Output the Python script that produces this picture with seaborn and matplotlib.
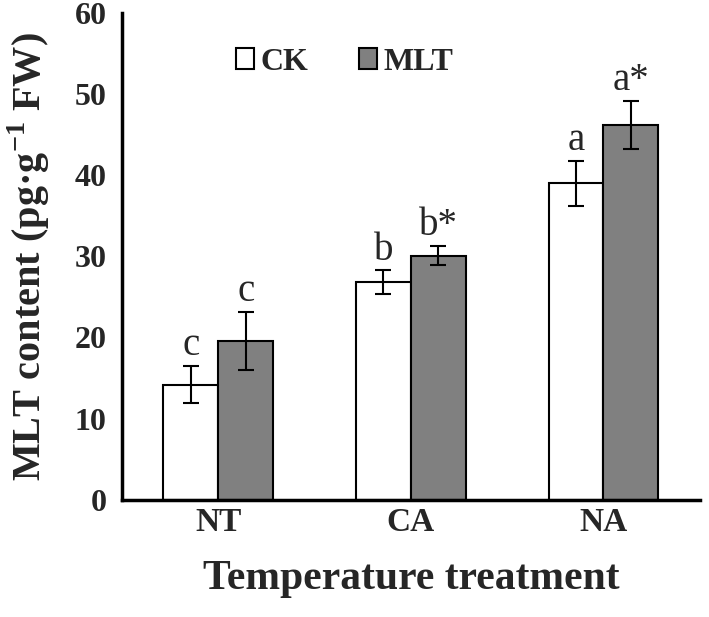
import seaborn as sns
import matplotlib.pyplot as plt
import pandas as pd

# values
treatments = ["NT", "CA", "NA"]
ck = [14.2, 26.8, 39.0]
mlt = [19.6, 30.1, 46.2]
ck_err = [2.3, 1.5, 2.8]
mlt_err = [3.6, 1.2, 3.0]
ck_letters = ["c", "b", "a"]
mlt_letters = ["c", "b*", "a*"]

sns.set_style("white", {'axes.grid': False})
plt.rcParams['font.family'] = ['Liberation Serif', 'DejaVu Serif']
plt.rcParams['mathtext.fontset'] = 'custom'
plt.rcParams['mathtext.rm'] = 'Liberation Serif'
plt.rcParams['mathtext.bf'] = 'Liberation Serif:bold'

df = pd.DataFrame({
    "treatment": treatments * 2,
    "group": ["CK"] * 3 + ["MLT"] * 3,
    "value": ck + mlt,
})

f = plt.figure(figsize=(7.09, 6.17), dpi=100)
ax = f.add_axes([0.172, 0.19, 0.815, 0.789])

sns.barplot(data=df, x="treatment", y="value", hue="group",
            palette=["white", "#808080"], edgecolor="black", linewidth=1.5,
            width=0.57, errorbar=None, ax=ax)

# error bars + letters
for cont, errs, letters in zip(ax.containers, [ck_err, mlt_err], [ck_letters, mlt_letters]):
    for bar, e, lab in zip(cont, errs, letters):
        x = bar.get_x() + bar.get_width() / 2
        h = bar.get_height()
        ax.errorbar(x, h, yerr=e, color="black", capsize=6, elinewidth=1.5,
                    capthick=1.5)
        ax.text(x, h + e + 0.2, lab, ha="center", va="bottom", fontsize=28)

ax.set_xlim(-0.5, 2.5)
ax.set_ylim(0, 60)
ax.set_yticks(range(0, 61, 10))
ax.set_xticks([0, 1, 2])
ax.set_xticklabels(treatments, fontsize=24, fontweight="bold")
ax.set_xticks([-0.5, 0.5, 1.5, 2.5], minor=True)
ax.tick_params(axis="x", which="major", length=0, pad=5)
ax.tick_params(axis="x", which="minor", length=8, width=2.5, direction="out")
ax.tick_params(axis="y", length=8, width=2.5, direction="out", labelsize=23, pad=3)
for t in ax.get_yticklabels():
    t.set_fontweight("bold")

ax.set_xlabel("Temperature treatment", fontsize=30, fontweight="bold", labelpad=16)
ax.set_ylabel(r"MLT content (pg·g$^{\mathbf{-1}}$ FW)", fontsize=29,
              fontweight="bold", labelpad=16)

for s in ["top", "right"]:
    ax.spines[s].set_visible(False)
for s in ["left", "bottom"]:
    ax.spines[s].set_linewidth(2.5)
    ax.spines[s].set_color("black")

leg = ax.legend(ncol=2, frameon=False, loc="upper left", bbox_to_anchor=(0.148, 0.988),
                handlelength=0.55, handleheight=0.65, handletextpad=0.2,
                columnspacing=1.6, prop={"size": 23, "weight": "bold"})

f.savefig("out.png", dpi=100)
